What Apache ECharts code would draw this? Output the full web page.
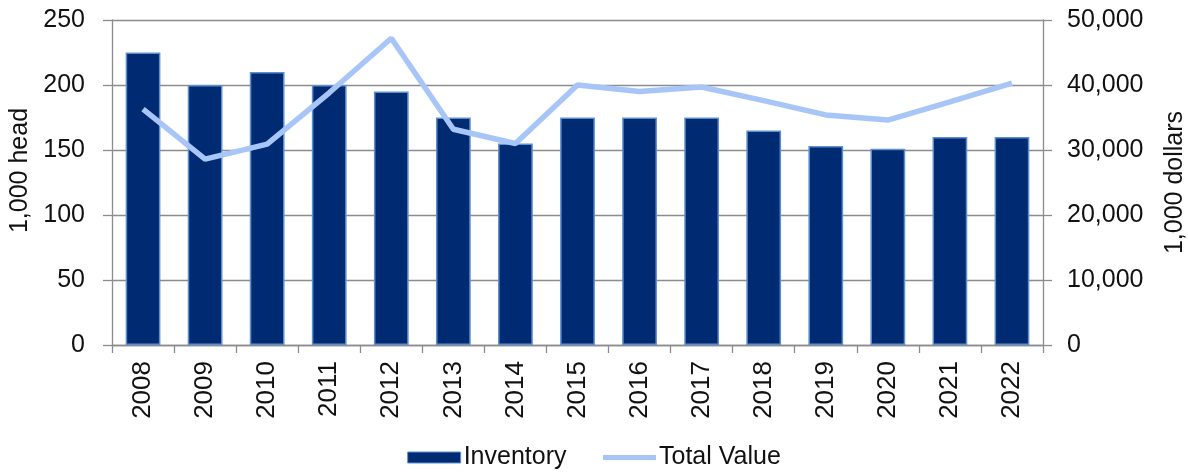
<!DOCTYPE html>
<html>
<head>
<meta charset="utf-8">
<script src="https://cdn.jsdelivr.net/npm/echarts@6/dist/echarts.min.js"></script>
<style>
  html, body { margin: 0; padding: 0; background: #fff; }
  #chart { width: 1188px; height: 476px; }
</style>
</head>
<body>
<div id="chart"></div>
<script>
// Annual inventory (1,000 head) and total value (1,000 dollars)
const years = ['2008', '2009', '2010', '2011', '2012', '2013', '2014', '2015',
               '2016', '2017', '2018', '2019', '2020', '2021', '2022'];
const inventory = [225, 200, 210, 200, 195, 175, 155, 175, 175, 175, 165, 153, 151, 160, 160];
const totalValue = [36300, 28600, 30900, 38800, 47200, 33200, 31000, 40000,
                    39000, 39700, 37600, 35400, 34600, 37400, 40300];
const headTicks = { min: 0, max: 250, interval: 50 };
const dollarTicks = { min: 0, max: 50000, interval: 10000 };

const FONT = 'Liberation Sans, Arial, sans-serif';
const GRAY = '#8c8c8c';
const BAR_COLOR = '#002b73';
const LINE_COLOR = '#a7c6f7';

const chart = echarts.init(document.getElementById('chart'));

const valueAxisBase = {
  type: 'value',
  nameLocation: 'middle',
  axisLine: { show: true, lineStyle: { color: GRAY, width: 1.3 } },
  axisTick: { show: true, length: 9, lineStyle: { color: GRAY, width: 1.3 } },
  axisLabel: { fontFamily: FONT, fontSize: 25, color: '#111' },
};

chart.setOption({
  animation: false,
  backgroundColor: '#ffffff',
  grid: { left: 112, right: 145, top: 20, bottom: 131, containLabel: false, outerBoundsMode: 'none' },
  legend: {
    bottom: 1,
    left: 'center',
    itemWidth: 53,
    itemHeight: 11,
    itemGap: 34,
    textStyle: { fontFamily: FONT, fontSize: 25, color: '#111', padding: [0, 0, 0, -2] },
    data: [
      { name: 'Inventory', icon: 'rect', itemStyle: { color: BAR_COLOR, borderColor: '#5d8fd0', borderWidth: 1 } },
      { name: 'Total Value', itemStyle: { opacity: 0 }, lineStyle: { color: LINE_COLOR, width: 5 } }
    ]
  },
  xAxis: {
    type: 'category',
    data: years,
    axisLine: { lineStyle: { color: GRAY, width: 1.3 } },
    axisTick: { show: true, alignWithLabel: false, length: 8, lineStyle: { color: GRAY, width: 1.3 } },
    axisLabel: { rotate: 90, fontFamily: FONT, fontSize: 26, color: '#111', margin: 16, interval: 0 },
  },
  yAxis: [
    Object.assign({}, valueAxisBase, headTicks, {
      name: '1,000 head',
      nameGap: 76,
      position: 'left',
      nameTextStyle: { fontFamily: FONT, fontSize: 25, color: '#111', padding: [0, 0, 0, 24] },
      axisLabel: Object.assign({}, valueAxisBase.axisLabel, { margin: 27 }),
      splitLine: { show: true, lineStyle: { color: GRAY, width: 1.3 } },
    }),
    Object.assign({}, valueAxisBase, dollarTicks, {
      name: '1,000 dollars',
      nameGap: 120,
      position: 'right',
      nameTextStyle: { fontFamily: FONT, fontSize: 25, color: '#111' },
      axisLabel: Object.assign({}, valueAxisBase.axisLabel, {
        margin: 24,
        formatter: v => v.toLocaleString('en-US')
      }),
      splitLine: { show: false },
    })
  ],
  series: [
    {
      name: 'Inventory',
      type: 'bar',
      data: inventory,
      yAxisIndex: 0,
      barWidth: '56%',
      itemStyle: { color: BAR_COLOR, borderColor: '#5d8fd0', borderWidth: 1.5 },
    },
    {
      name: 'Total Value',
      type: 'line',
      data: totalValue,
      yAxisIndex: 1,
      symbol: 'none',
      lineStyle: { color: LINE_COLOR, width: 5.5 },
      itemStyle: { color: LINE_COLOR },
    }
  ]
});
</script>
</body>
</html>
